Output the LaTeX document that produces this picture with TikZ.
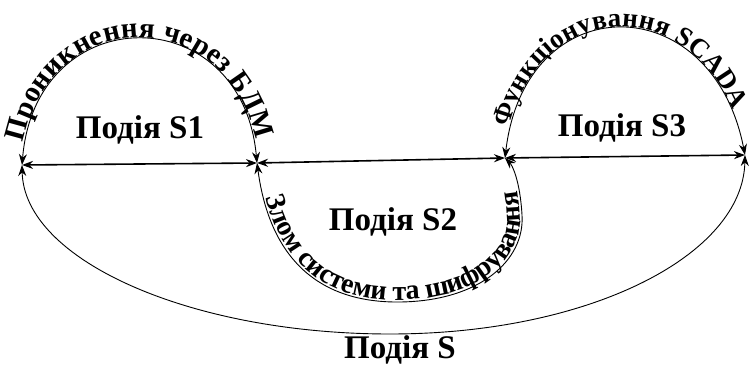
\documentclass[tikz,border=0pt]{standalone}
\usepackage{fontspec}
\setmainfont{Liberation Serif}
\usetikzlibrary{arrows.meta,decorations.text}
\tikzset{
  tip/.style={{Stealth[length=11pt,width=8pt]}-{Stealth[length=11pt,width=8pt]}},
  baseline/.style={line width=1.6pt, tip},
  arcline/.style={line width=0.9pt, tip},
  lbl/.style={font=\bfseries\fontsize{33}{33}\selectfont, inner sep=0pt},
  pathtext/.style={decorate, decoration={text along path, text align=center, raise=2pt}}
}
\begin{document}
\begin{tikzpicture}[x=1pt,y=-1pt]
\useasboundingbox (0,0) rectangle (752,374);
\coordinate (A) at (22,165);
\coordinate (B) at (257,163);
\coordinate (C) at (505,158);
\coordinate (D) at (745,155);
\coordinate (P2) at (400,302);
\coordinate (Q2) at (522,215);
\coordinate (PS) at (390,334);
% baseline
\draw[baseline] (A) -- (B);
\draw[baseline] (B) -- (C);
\draw[baseline] (C) -- (D);
% arcs
\draw[arcline] (A) .. controls (36,-2) and (242,-2) .. (B);
\draw[arcline] (B) .. controls (270,260) and (320,303) .. (P2) .. controls (480,301) and (525,260) .. (Q2) .. controls (520,180) and (512,165) .. (C);
\draw[arcline] (C) .. controls (525,-14) and (712,-14) .. (D);
\draw[arcline] (A) .. controls (24,260) and (190,334) .. (PS) .. controls (590,334) and (743,255) .. (D);
% texts along paths
\path[pathtext, decoration={text={|\bfseries\fontsize{29}{29}\selectfont|Проникнення через БДМ}}] (A) .. controls (36,-2) and (242,-2) .. (B);
\path[pathtext, decoration={text={|\bfseries\fontsize{28}{28}\selectfont|Злом системи та шифрування}}] (B) .. controls (270,260) and (320,303) .. (P2) .. controls (480,301) and (525,260) .. (Q2) .. controls (520,180) and (512,165) .. (C);
\path[pathtext, decoration={text align={align=center, right indent=16pt}, text={|\bfseries\fontsize{27}{27}\selectfont|Функціонування SCADA}}] (C) .. controls (525,-14) and (712,-14) .. (D);
% labels
\node[lbl] (s1) at (140,130) {Подія S1};
\node[lbl] (s2) at (393,222) {Подія S2};
\node[lbl] (s3) at (622,128) {Подія S3};
\node[lbl] (s) at (400,350) {Подія S};
\end{tikzpicture}
\end{document}
